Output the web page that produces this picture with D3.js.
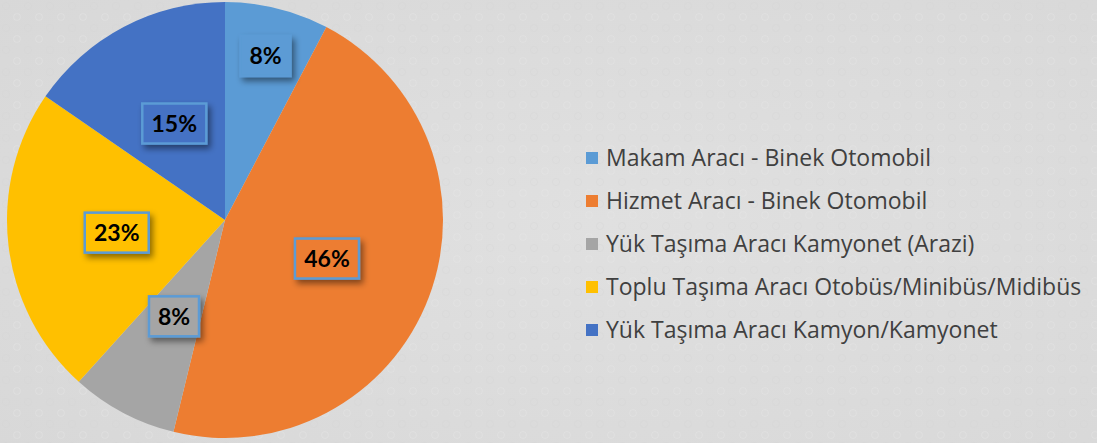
<!DOCTYPE html>
<html>
<head>
<meta charset="utf-8">
<script src="https://cdn.jsdelivr.net/npm/d3@7"></script>
<style>
  html, body { margin: 0; padding: 0; }
  body { width: 1097px; height: 443px; overflow: hidden; background: #dddddd; }
</style>
</head>
<body>
<div id="chart"></div>
<script>
// vehicle categories, clockwise from 12 o'clock
const categories = [
    'Makam Aracı - Binek Otomobil',
    'Hizmet Aracı - Binek Otomobil',
    'Yük Taşıma Aracı Kamyonet (Arazi)',
    'Toplu Taşıma Aracı Otobüs/Minibüs/Midibüs',
    'Yük Taşıma Aracı Kamyon/Kamyonet'
];
const shares = [7.7, 46.1, 7.9, 22.9, 15.4];
const colors = ['#5b9bd5', '#ed7d31', '#a5a5a5', '#ffc000', '#4472c4'];

const width = 1097, height = 443;
const cx = 225, cy = 220, radius = 218;

const svg = d3.select('#chart')
    .append('svg')
    .attr('width', width)
    .attr('height', height);

// background with a faint texture
const defs = svg.append('defs');
const bg = defs.append('radialGradient')
    .attr('id', 'bgGrad')
    .attr('cx', '55%').attr('cy', '50%').attr('r', '75%');
bg.append('stop').attr('offset', '0%').attr('stop-color', '#e0e0e0');
bg.append('stop').attr('offset', '100%').attr('stop-color', '#d8d8d8');
const pat = defs.append('pattern')
    .attr('id', 'dots')
    .attr('width', 22).attr('height', 22)
    .attr('patternUnits', 'userSpaceOnUse');
pat.append('circle').attr('cx', 6).attr('cy', 6).attr('r', 3.5)
    .attr('fill', 'none').attr('stroke', '#d2d2d2').attr('stroke-width', 1).attr('opacity', 0.35);
pat.append('circle').attr('cx', 17).attr('cy', 17).attr('r', 3.5)
    .attr('fill', 'none').attr('stroke', '#e6e6e6').attr('stroke-width', 1).attr('opacity', 0.35);

const shadow = defs.append('filter')
    .attr('id', 'shadow')
    .attr('x', '-30%').attr('y', '-30%').attr('width', '170%').attr('height', '180%');
shadow.append('feDropShadow')
    .attr('dx', 3).attr('dy', 4).attr('stdDeviation', 3)
    .attr('flood-color', '#000').attr('flood-opacity', 0.45);

svg.append('rect').attr('width', width).attr('height', height).attr('fill', 'url(#bgGrad)');
svg.append('rect').attr('width', width).attr('height', height).attr('fill', 'url(#dots)');

const pie = d3.pie().sort(null).value(d => d);
const arcs = pie(shares);
const arc = d3.arc().innerRadius(0).outerRadius(radius);
const labelArc = d3.arc().innerRadius(radius * 0.5).outerRadius(radius * 0.5);
const outerLabelArc = d3.arc().innerRadius(radius * 0.775).outerRadius(radius * 0.775);

const g = svg.append('g').attr('transform', 'translate(' + cx + ',' + cy + ')');

g.selectAll('path.slice')
    .data(arcs)
    .enter()
    .append('path')
    .attr('class', 'slice')
    .attr('d', arc)
    .attr('fill', (d, i) => colors[i]);

// data labels: boxes with a drop shadow
const labels = g.selectAll('g.label')
    .data(arcs)
    .enter()
    .append('g')
    .attr('class', 'label')
    .attr('transform', (d, i) => {
        // small first slice gets its label pushed outward (best fit)
        let p = i === 0 ? outerLabelArc.centroid(d) : labelArc.centroid(d);
        return 'translate(' + p[0] + ',' + p[1] + ')';
    });

labels.append('rect')
    .attr('x', d => Math.round(d.value) >= 10 ? -32 : -25)
    .attr('y', -20)
    .attr('width', d => Math.round(d.value) >= 10 ? 64 : 50)
    .attr('height', 40)
    .attr('fill', (d, i) => colors[i])
    .attr('stroke', '#5b9bd5')
    .attr('stroke-width', 2.5)
    .attr('filter', 'url(#shadow)');

labels.append('text')
    .attr('text-anchor', 'middle')
    .attr('dy', '0.36em')
    .style('font-family', 'Lato, "Open Sans", sans-serif')
    .style('font-weight', 'bold')
    .style('font-size', '23px')
    .attr('fill', '#000')
    .text(d => Math.round(d.value) + '%');

// legend
const legendY = d3.scalePoint()
    .domain(categories)
    .range([158, 330]);

const legend = svg.selectAll('g.legend')
    .data(categories)
    .enter()
    .append('g')
    .attr('class', 'legend')
    .attr('transform', d => 'translate(586,' + legendY(d) + ')');

legend.append('rect')
    .attr('x', 0).attr('y', -6)
    .attr('width', 12).attr('height', 12)
    .attr('fill', (d, i) => colors[i]);

legend.append('text')
    .attr('x', 20)
    .attr('dy', '0.35em')
    .style('font-family', '"Open Sans", sans-serif')
    .style('font-size', '23px')
    .attr('fill', '#404040')
    .text(d => d);
</script>
</body>
</html>
